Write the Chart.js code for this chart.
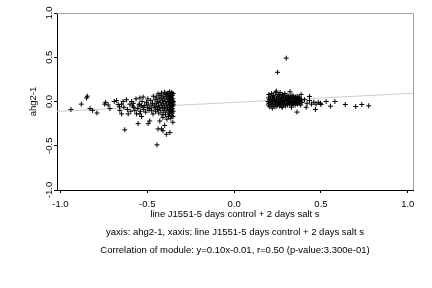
<!DOCTYPE html>
<html>
<head>
<meta charset="utf-8">
<script src="https://cdn.jsdelivr.net/npm/chart.js@4/dist/chart.umd.min.js"></script>
<style>
  html, body { margin: 0; padding: 0; background: #fff; }
  #wrap { width: 432px; height: 288px; }
</style>
</head>
<body>
<div id="wrap"><canvas id="chart" width="432" height="288"></canvas></div>
<script>
// ticks
const xTicks = [-1.0, -0.5, 0.0, 0.5, 1.0];
const yTicks = [-1.0, -0.5, 0.0, 0.5, 1.0];

// fit: y = 0.10x - 0.01
const slope = 0.10;
const intercept = -0.01;
const xRange = [-1.02, 1.03];

const xLabel = 'line J1551-5 days control + 2 days salt s';
const yLabel = 'ahg2-1';
const captionLines = [
    'yaxis: ahg2-1, xaxis: line J1551-5 days control + 2 days salt s',
    'Correlation of module: y=0.10x-0.01, r=0.50 (p-value:3.300e-01)'
];

// left group
const leftGroup = [
    [-0.94,-0.09],[-0.88,-0.03],[-0.85,0.04],[-0.845,0.06],[-0.83,-0.08],[-0.815,-0.10],[-0.79,-0.13],
    [-0.745,-0.03],[-0.74,-0.01],[-0.725,-0.04],[-0.715,-0.08],[-0.69,0.0],
    [-0.677,0.01],[-0.668,-0.035],[-0.66,-0.06],[-0.648,-0.03],[-0.658,-0.10],[-0.648,-0.14],[-0.639,0.0],
    [-0.635,-0.065],[-0.63,-0.32],[-0.62,0.02],[-0.615,-0.09],[-0.61,-0.14],[-0.60,-0.03],[-0.595,-0.11],
    [-0.59,0.0],[-0.585,-0.05],[-0.58,-0.02],[-0.578,-0.065],[-0.572,-0.10],[-0.565,0.03],[-0.562,-0.14],
    [-0.555,-0.08],[-0.553,-0.25],[-0.548,-0.04],[-0.545,-0.03],[-0.543,0.04],[-0.543,-0.14],[-0.54,-0.11],
    [-0.535,-0.05],[-0.533,-0.17],[-0.53,0.0],[-0.524,0.05],[-0.524,-0.065],[-0.52,-0.09],[-0.515,-0.045],
    [-0.51,-0.12],[-0.505,-0.01],[-0.50,-0.07],[-0.497,0.03],[-0.495,-0.03],[-0.495,-0.25],[-0.49,-0.10],
    [-0.486,-0.08],[-0.486,-0.22],[-0.48,0.01],[-0.478,-0.05],[-0.476,-0.10],[-0.47,-0.02],[-0.467,-0.14],
    [-0.465,0.06],[-0.46,-0.07],
    [-0.458,-0.04],[-0.455,0.02],[-0.452,-0.11],[-0.45,-0.06],[-0.448,0.05],[-0.445,-0.02],[-0.444,-0.49],
    [-0.442,-0.09],[-0.44,0.0],[-0.438,0.087],[-0.438,-0.31],[-0.436,-0.05],[-0.434,-0.13],[-0.432,0.03],
    [-0.43,-0.07],[-0.428,-0.22],[-0.427,0.07],[-0.425,-0.01],[-0.423,-0.10],[-0.42,0.04],[-0.418,0.095],
    [-0.418,-0.31],[-0.417,-0.04],[-0.415,-0.15],[-0.413,0.01],[-0.412,-0.07],[-0.41,-0.18],[-0.41,-0.33],
    [-0.408,0.06],[-0.406,-0.02],[-0.405,-0.12],[-0.403,0.03],[-0.402,-0.08],[-0.40,0.106],[-0.40,-0.27],
    [-0.398,-0.05],[-0.397,0.08],[-0.395,-0.15],[-0.394,0.0],[-0.392,-0.10],[-0.39,-0.37],[-0.39,0.05],
    [-0.388,-0.03],[-0.387,-0.20],[-0.385,0.09],[-0.384,-0.07],[-0.382,0.02],[-0.38,0.095],[-0.38,-0.12],
    [-0.379,-0.01],[-0.378,-0.17],[-0.377,0.06],[-0.375,-0.05],[-0.374,-0.09],[-0.373,0.04],[-0.372,-0.14],
    [-0.371,0.11],[-0.37,-0.35],[-0.37,0.068],[-0.37,0.0],[-0.369,-0.03],[-0.368,-0.07],[-0.367,-0.11],
    [-0.366,0.03],[-0.365,-0.19],[-0.364,0.08],[-0.363,-0.02],[-0.362,-0.06],[-0.361,-0.16],[-0.36,0.05],
    [-0.36,-0.1],[-0.359,0.1],[-0.358,0.01],[-0.357,-0.04],[-0.356,-0.13],[-0.355,0.07],[-0.355,-0.08],
    [-0.354,-0.01],[-0.353,-0.235],[-0.353,0.03],[-0.352,-0.05],[-0.352,-0.17],[-0.351,0.09],[-0.351,-0.11],
    [-0.35,0.0],[-0.35,-0.03]
];

// right group
const rightGroup = [
    [0.195,0.0],[0.197,-0.04],[0.198,0.04],[0.2,0.08],[0.2,-0.02],[0.203,0.02],[0.205,-0.06],[0.207,0.06],
    [0.21,-0.01],[0.212,0.03],[0.214,-0.04],[0.216,0.09],[0.218,0.0],[0.22,-0.076],[0.221,0.05],[0.223,-0.02],
    [0.225,0.02],[0.227,0.07],[0.229,-0.05],[0.231,0.01],[0.233,0.04],[0.235,-0.03],[0.237,0.1],[0.239,0.0],
    [0.241,-0.06],[0.243,0.117],[0.244,0.03],[0.246,-0.01],[0.248,0.06],[0.25,-0.04],[0.252,0.02],[0.254,0.08],
    [0.256,-0.02],[0.258,0.04],[0.26,0.0],[0.262,-0.05],[0.263,0.07],[0.265,0.1],[0.266,0.02],[0.268,-0.03],
    [0.27,0.05],[0.272,-0.01],[0.274,0.03],[0.276,-0.06],[0.277,-0.065],[0.278,0.08],[0.28,0.0],[0.282,0.04],
    [0.284,-0.03],[0.286,0.06],[0.288,0.01],[0.29,-0.02],[0.292,0.09],[0.294,0.03],[0.296,-0.05],[0.298,0.05],
    [0.3,0.0],[0.302,-0.02],[0.304,0.07],[0.306,0.02],[0.308,-0.04],[0.31,0.04],[0.312,-0.01],[0.314,0.06],
    [0.316,0.01],[0.318,-0.03],[0.32,0.03],[0.322,0.11],[0.323,-0.01],[0.325,0.05],[0.327,0.0],[0.329,-0.04],
    [0.33,-0.065],[0.331,0.02],[0.333,0.07],[0.335,-0.02],[0.337,0.04],[0.339,0.0],[0.341,-0.03],[0.343,0.06],
    [0.345,0.02],[0.347,-0.01],[0.349,0.03],[0.351,-0.04],[0.353,0.05],[0.355,0.01],[0.357,-0.02],[0.359,0.03],
    [0.36,0.0],[0.362,-0.12],[0.363,0.06],[0.365,-0.03],[0.367,0.02],[0.369,0.04],[0.371,-0.01],[0.373,0.01],
    [0.375,0.05],[0.377,-0.02],[0.379,0.03],[0.381,0.0],[0.383,-0.04],[0.386,0.08],[0.388,0.02],[0.39,-0.01],
    [0.30,0.49],[0.25,0.33],[0.405,0.02],[0.415,-0.065],[0.42,-0.02],[0.434,0.057],[0.434,0.01],[0.445,-0.03],
    [0.459,-0.008],[0.468,-0.09],[0.472,-0.03],[0.485,-0.01],[0.497,-0.02],[0.50,-0.034],[0.53,0.0],
    [0.555,-0.053],[0.58,0.0],[0.64,-0.034],[0.70,-0.057],[0.735,-0.034],[0.775,-0.049]
];

const FONT = '"Liberation Sans", Arial, sans-serif';
const toPts = arr => arr.map(p => ({ x: p[0], y: p[1] }));

// grey top/right box edges + caption lines under the x title
const boxAndCaption = {
    id: 'boxAndCaption',
    afterDraw(chart) {
        const { ctx, chartArea: a } = chart;
        ctx.save();
        ctx.strokeStyle = '#a0a0a0';
        ctx.lineWidth = 1;
        ctx.beginPath();
        ctx.moveTo(a.left, a.top + 0.5);
        ctx.lineTo(a.right + 0.5, a.top + 0.5);
        ctx.lineTo(a.right + 0.5, a.bottom);
        ctx.stroke();
        ctx.fillStyle = '#000';
        ctx.font = '9.5px ' + FONT;
        ctx.textAlign = 'center';
        ctx.textBaseline = 'middle';
        const cx = (a.left + a.right) / 2;
        ctx.fillText(captionLines[0], cx, 232);
        ctx.fillText(captionLines[1], cx, 250);
        ctx.restore();
    }
};

new Chart(document.getElementById('chart').getContext('2d'), {
    type: 'scatter',
    data: {
        datasets: [
            {
                data: toPts(leftGroup.concat(rightGroup)),
                pointStyle: 'cross',
                pointRadius: 2.5,
                pointBorderWidth: 1,
                borderColor: '#000',
                backgroundColor: '#000'
            },
            {
                type: 'line',
                data: xRange.map(x => ({ x: x, y: slope * x + intercept })),
                borderColor: '#cccccc',
                borderWidth: 1,
                pointRadius: 0,
                fill: false
            }
        ]
    },
    options: {
        responsive: false,
        animation: false,
        devicePixelRatio: 1,
        layout: { padding: { left: 28, top: 13, right: 19, bottom: 68 } },
        plugins: { legend: { display: false }, tooltip: { enabled: false } },
        scales: {
            x: {
                type: 'linear',
                min: xRange[0],
                max: xRange[1],
                afterBuildTicks: s => { s.ticks = xTicks.map(v => ({ value: v })); },
                afterFit: s => { s.height = 30; },
                grid: { drawOnChartArea: false, drawTicks: true, tickLength: 3, color: '#000' },
                border: { color: '#000', width: 1 },
                ticks: {
                    color: '#000', padding: 6, maxRotation: 0,
                    font: { family: FONT, size: 9.5 },
                    callback: v => v.toFixed(1)
                },
                title: {
                    display: true, text: xLabel, color: '#000',
                    font: { family: FONT, size: 9.5 }, padding: { top: 0, bottom: 0 }
                }
            },
            y: {
                type: 'linear',
                min: -1,
                max: 1,
                afterBuildTicks: s => { s.ticks = yTicks.map(v => ({ value: v })); },
                afterFit: s => { s.width = 29; },
                grid: { drawOnChartArea: false, drawTicks: true, tickLength: 3, color: '#000' },
                border: { color: '#000', width: 1 },
                ticks: {
                    color: '#000', padding: -4, minRotation: 90, maxRotation: 90, crossAlign: 'center',
                    font: { family: FONT, size: 9.5 },
                    callback: v => v.toFixed(1)
                },
                title: {
                    display: true, text: yLabel, color: '#000',
                    font: { family: FONT, size: 9.5 }, padding: { top: 0, bottom: 0 }
                }
            }
        }
    },
    plugins: [boxAndCaption]
});
</script>
</body>
</html>
